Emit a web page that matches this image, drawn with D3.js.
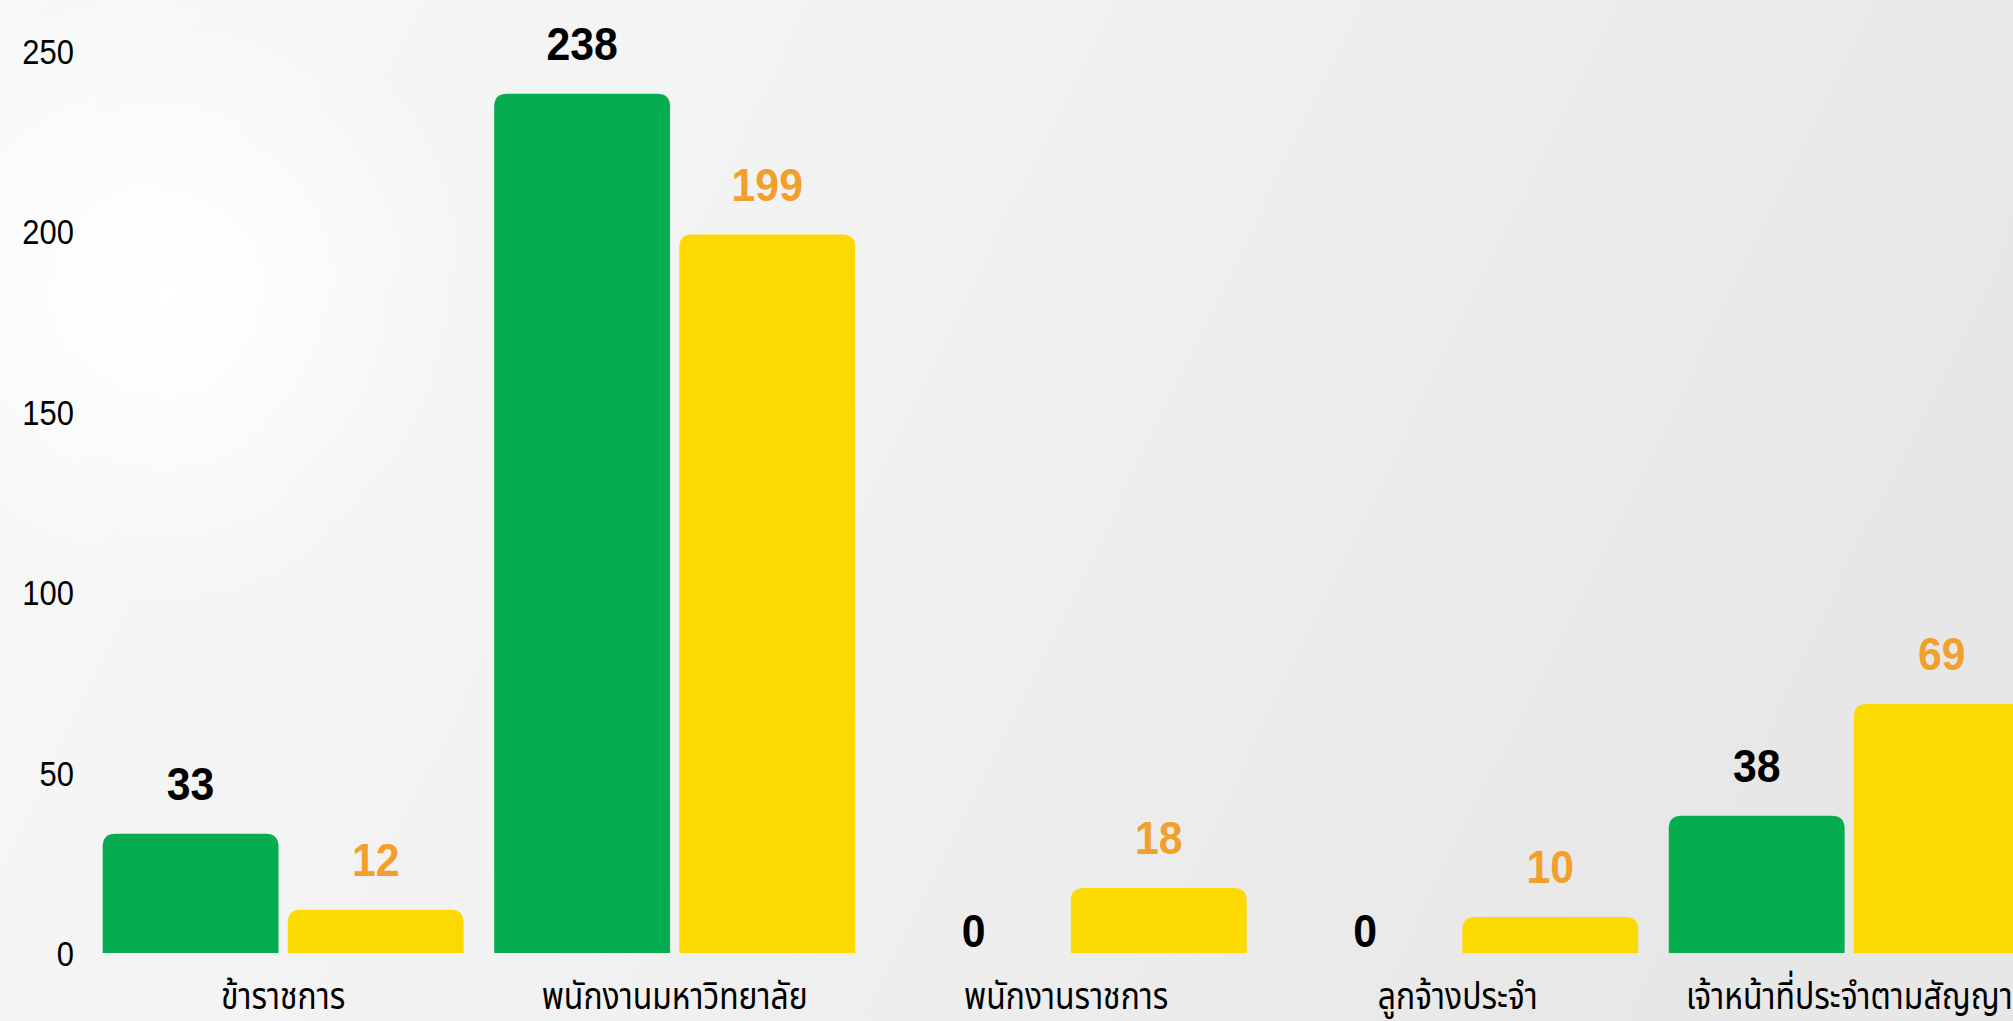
<!DOCTYPE html>
<html>
<head>
<meta charset="utf-8">
<script src="https://cdn.jsdelivr.net/npm/d3@7"></script>
<style>
  html, body { margin: 0; padding: 0; overflow: hidden; }
  svg { display: block; }
</style>
</head>
<body>
<svg id="chart" width="2013" height="1021"></svg>
<script>
// ---- data ----
const categories = ["ข้าราชการ", "พนักงานมหาวิทยาลัย", "พนักงานราชการ", "ลูกจ้างประจำ", "เจ้าหน้าที่ประจำตามสัญญา"];
const seriesNames = ["กลุ่ม 1", "กลุ่ม 2"];
const greenValues = [33, 238, 0, 0, 38];
const yellowValues = [12, 199, 18, 10, 69];
const yTicks = [0, 50, 100, 150, 200, 250];

// ---- layout / style ----
const W = 2013, H = 1021;
const colors = ["#06AC50", "#FCD900"];
const labelColors = ["#000000", "#F29F2B"];
const thaiFont = "'Noto Sans Thai', 'Noto Sans Thai UI', 'Noto Sans Thai Looped', Loma, Garuda, Kinnari, Sarabun, 'Noto Sans', sans-serif";
const numFont = "'Liberation Sans Narrow', 'Arial Narrow', 'Liberation Sans', Roboto, sans-serif";
const valFont = "'Liberation Sans', Roboto, Arial, sans-serif";

const svg = d3.select("#chart");
const defs = svg.append("defs");

// background gradients
const lg = defs.append("linearGradient").attr("id", "bg")
  .attr("x1", "0%").attr("y1", "0%").attr("x2", "100%").attr("y2", "25%");
lg.append("stop").attr("offset", "0%").attr("stop-color", "#f8f8f8");
lg.append("stop").attr("offset", "45%").attr("stop-color", "#f2f2f2");
lg.append("stop").attr("offset", "100%").attr("stop-color", "#e7e7e7");
const rg = defs.append("radialGradient").attr("id", "glow")
  .attr("gradientUnits", "userSpaceOnUse")
  .attr("cx", 165).attr("cy", 295).attr("r", 320);
rg.append("stop").attr("offset", "0%").attr("stop-color", "#ffffff").attr("stop-opacity", 1);
rg.append("stop").attr("offset", "35%").attr("stop-color", "#ffffff").attr("stop-opacity", 0.7);
rg.append("stop").attr("offset", "100%").attr("stop-color", "#ffffff").attr("stop-opacity", 0);

svg.append("rect").attr("width", W).attr("height", H).attr("fill", "url(#bg)");
svg.append("rect").attr("width", W).attr("height", H).attr("fill", "url(#glow)");

// scales
const y = d3.scaleLinear().domain([0, 250]).range([953, 50.5]);
const x0 = d3.scaleBand().domain(categories).range([87.4, 2045]).paddingInner(0.078).paddingOuter(0.039);
const x1 = d3.scaleBand().domain([0, 1]).range([0, x0.bandwidth()]).paddingInner(0.05).paddingOuter(0);

// y axis labels (no line, no ticks)
const yAxis = d3.axisLeft(y).tickValues(yTicks).tickSize(0).tickPadding(0);
const gy = svg.append("g").attr("transform", "translate(74,0)").call(yAxis);
gy.select(".domain").remove();
gy.selectAll("text")
  .attr("font-family", numFont)
  .attr("font-size", 36)
  .attr("fill", "#000")
  .attr("dy", "0.35em")
  .attr("transform", "scale(0.86,1)");

// data rows
const rows = categories.map((c, i) => ({ cat: c, vals: [greenValues[i], yellowValues[i]] }));

function topRoundedRect(x, yTop, w, h, r) {
  r = Math.min(r, h, w / 2);
  return `M${x},${yTop + h}V${yTop + r}Q${x},${yTop} ${x + r},${yTop}H${x + w - r}Q${x + w},${yTop} ${x + w},${yTop + r}V${yTop + h}Z`;
}

const groups = svg.append("g").selectAll("g.grp").data(rows).join("g")
  .attr("class", "grp")
  .attr("transform", d => `translate(${x0(d.cat)},0)`);

groups.selectAll("path.bar").data(d => d.vals.map((v, k) => ({ v, k }))).join("path")
  .attr("class", "bar")
  .attr("fill", d => colors[d.k])
  .attr("d", d => d.v > 0 ? topRoundedRect(x1(d.k), y(d.v), x1.bandwidth(), y(0) - y(d.v), 13) : "");

groups.selectAll("g.val").data(d => d.vals.map((v, k) => ({ v, k }))).join("g")
  .attr("class", "val")
  .attr("transform", d => `translate(${x1(d.k) + x1.bandwidth() / 2},${d.v > 0 ? y(d.v) - 34 : y(0) - 6})`)
  .append("text")
  .attr("text-anchor", "middle")
  .attr("font-family", valFont)
  .attr("font-weight", "bold")
  .attr("font-size", 46)
  .attr("transform", "scale(0.93,1)")
  .attr("fill", d => labelColors[d.k])
  .text(d => d.v);

// category labels
const xAxis = d3.axisBottom(x0).tickSize(0).tickPadding(0);
const gx = svg.append("g").attr("transform", "translate(0,1009)").call(xAxis);
gx.select(".domain").remove();
gx.selectAll("text")
  .attr("y", 0)
  .attr("dy", 0)
  .attr("font-family", thaiFont)
  .attr("font-size", 38)
  .attr("transform", "scale(0.84,1)")
  .attr("fill", "#000");
</script>
</body>
</html>
